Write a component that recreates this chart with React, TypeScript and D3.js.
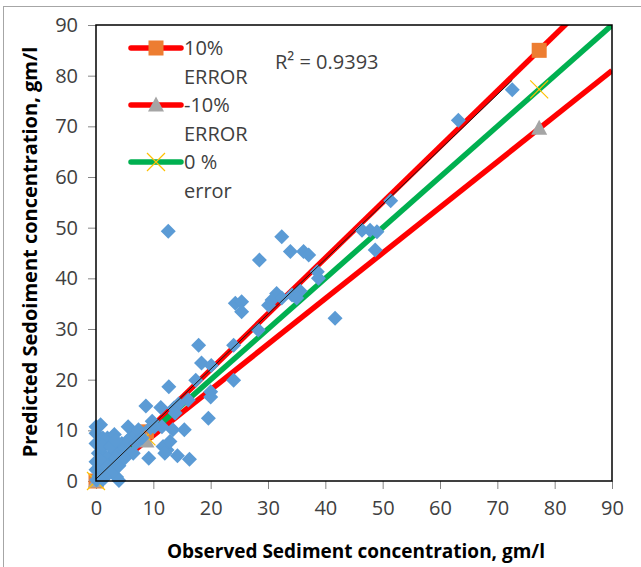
import * as d3 from 'd3';
import React, { useEffect, useRef } from 'react';

// observed vs predicted sediment concentration (gm/l)
const observed = [
  72.6, 63.2, 51.4, 46.4, 47.8, 49.0, 48.7,
  32.4, 28.5, 33.9, 36.2, 37.1, 38.6, 38.8,
  24.3, 25.4, 25.4, 31.5, 30.7, 30.1, 32.4, 34.2, 35.6, 35.0, 41.7, 28.3, 24.0, 24.0, 12.6,
  17.9, 18.4, 20.1, 17.4, 12.7, 20.0, 20.0, 16.1,
  8.7, 11.3, 13.6, 14.4, 13.8, 19.6,
  15.4, 13.4, 11.5, 9.2, 14.2, 16.3, 12.4, 11.7, 12.9, 10.2, 9.8, 12.0,
  0, 0.8, 0, 0, 0.4, 0, 0, 0.1, 2.1, 3.0, 3.9, 4.5, 6.2, 5.6, 7.4,
  4.0, 3.6, 1.6, 2.4, 1.0, 1.5, 2.8, 5.0, 5.5, 7.0, 6.5, 8.0, 9.5, 0.5, 1.2,
  1.0, 2.0, 3.0, 4.0, 1.5, 3.5, 5.0, 1.0, 1.2,
  2.0, 3.2, 1.2, 2.5, 0.6, 3.4
];
const predicted = [
  77.2, 71.2, 55.3, 49.5, 49.5, 49.2, 45.6,
  48.2, 43.6, 45.3, 45.3, 44.6, 41.3, 40.0,
  35.1, 35.4, 33.4, 37.0, 35.7, 34.7, 36.1, 36.7, 37.5, 36.1, 32.1, 29.8, 26.8, 19.9, 49.3,
  26.8, 23.3, 22.8, 19.9, 18.6, 17.6, 16.6, 16.0,
  14.8, 14.5, 14.4, 15.2, 13.4, 12.4,
  10.1, 10.1, 10.7, 4.5, 5.0, 4.3, 6.1, 6.8, 7.8, 10.7, 11.8, 5.5,
  10.7, 11.1, 9.4, 7.4, 5.5, 3.8, 2.2, 0.2, 4.1, 5.5, 6.1, 7.4, 8.7, 10.7, 10.1,
  0.1, 0.8, 0.8, 2.2, 2.8, 5.0, 3.2, 6.5, 8.0, 7.5, 5.5, 8.5, 10.5, 1.0, 0.3,
  1.0, 1.5, 2.0, 3.0, 3.5, 4.5, 4.5, 6.5, 8.5,
  8.5, 9.2, 7.0, 6.8, 4.2, 8.0
];

// error band series: marker positions
const errorX = [0, 8.8, 77.3];
const plus10Y = [0, 9.7, 85.0];
const minus10Y = [0, 7.9, 69.6];
const zeroY = [0, 8.8, 77.3];
const errorFactors = [1.1, 0.9, 1.0];

// linear trendline
const trendSlope = 1.084;
const trendIntercept = 0.4;
const r2Label = 'R² = 0.9393';

const ticks = [0, 10, 20, 30, 40, 50, 60, 70, 80, 90];
const legendLabels = [['10%', 'ERROR'], ['-10%', 'ERROR'], ['0 %', 'error']];

export default function App() {
  const svgRef = useRef<SVGSVGElement>(null);
  const width = 641;
  const height = 567;

  useEffect(() => {
    const svg = d3.select(svgRef.current);
    svg.selectAll('*').remove();
    const font = "'Open Sans', sans-serif";
    const textColor = '#404040';

    const x = d3.scaleLinear().domain([0, 90]).range([96, 612]);
    const y = d3.scaleLinear().domain([0, 90]).range([481, 25]);

    // outer chart border
    svg.append('rect')
      .attr('x', 3.5).attr('y', 6.5)
      .attr('width', 700).attr('height', 700)
      .attr('fill', 'white')
      .attr('stroke', '#a6a6a6');

    svg.append('defs').append('clipPath').attr('id', 'plotClip')
      .append('rect')
      .attr('x', 96).attr('y', 25)
      .attr('width', 516).attr('height', 456);

    // axes
    const xAxis = svg.append('g')
      .attr('transform', 'translate(0,481)')
      .call(d3.axisBottom(x).tickValues(ticks).tickSize(8).tickPadding(12));
    const yAxis = svg.append('g')
      .attr('transform', 'translate(96,0)')
      .call(d3.axisLeft(y).tickValues(ticks).tickSize(8).tickPadding(10));
    [xAxis, yAxis].forEach(g => {
      g.select('.domain').remove();
      g.selectAll('line').attr('stroke', '#868686');
      g.selectAll('text')
        .attr('font-family', font)
        .attr('font-size', 20)
        .attr('fill', textColor);
    });
    xAxis.selectAll('text').attr('dy', '0.72em');

    // error lines
    const lineColors = ['#ff0000', '#ff0000', '#00b050'];
    const plot = svg.append('g').attr('clip-path', 'url(#plotClip)');
    errorFactors.forEach((f, i) => {
      plot.append('line')
        .attr('x1', x(0)).attr('y1', y(0))
        .attr('x2', x(90)).attr('y2', y(90 * f))
        .attr('stroke', lineColors[i])
        .attr('stroke-width', 5.5);
    });

    // markers
    const squareMarker = (g, cx, cy) => g.append('rect')
      .attr('x', cx - 7.5).attr('y', cy - 7.5)
      .attr('width', 15).attr('height', 15)
      .attr('fill', '#ed7d31');
    const triMarker = (g, cx, cy) => g.append('path')
      .attr('d', `M${cx},${cy - 8.5}L${cx + 8},${cy + 6.5}L${cx - 8},${cy + 6.5}Z`)
      .attr('fill', '#a5a5a5');
    const crossMarker = (g, cx, cy) => g.append('path')
      .attr('d', `M${cx - 9},${cy - 9}L${cx + 9},${cy + 9}M${cx - 9},${cy + 9}L${cx + 9},${cy - 9}`)
      .attr('stroke', '#ffc000')
      .attr('stroke-width', 1.2)
      .attr('fill', 'none');

    errorX.forEach((v, i) => {
      squareMarker(svg, x(v), y(plus10Y[i]));
      triMarker(svg, x(v), y(minus10Y[i]));
      crossMarker(svg, x(v), y(zeroY[i]));
    });

    // scatter
    const pts = observed.map((o, i) => ({ o, p: predicted[i] }));
    const r = 7.5;
    svg.append('g')
      .selectAll('path')
      .data(pts)
      .enter()
      .append('path')
      .attr('d', d => `M${x(d.o)},${y(d.p) - r}L${x(d.o) + r},${y(d.p)}L${x(d.o)},${y(d.p) + r}L${x(d.o) - r},${y(d.p)}Z`)
      .attr('fill', '#5b9bd5');

    // trendline
    const xMax = d3.max(observed);
    const xMin = d3.min(observed);
    svg.append('line')
      .attr('x1', x(xMin)).attr('y1', y(trendSlope * xMin + trendIntercept))
      .attr('x2', x(xMax)).attr('y2', y(trendSlope * xMax + trendIntercept))
      .attr('stroke', '#1a1a1a')
      .attr('stroke-width', 1);

    // plot frame
    svg.append('rect')
      .attr('x', 96).attr('y', 25)
      .attr('width', 516).attr('height', 456)
      .attr('fill', 'none')
      .attr('stroke', 'black')
      .attr('stroke-width', 1.5);

    // legend
    const markers = [squareMarker, triMarker, crossMarker];
    legendLabels.forEach((lab, i) => {
      const ly = 48 + i * 57;
      svg.append('line')
        .attr('x1', 131).attr('x2', 181)
        .attr('y1', ly).attr('y2', ly)
        .attr('stroke', lineColors[i])
        .attr('stroke-width', 5.5)
        .attr('stroke-linecap', 'round');
      markers[i](svg, 156, ly);
      lab.forEach((t, j) => {
        svg.append('text')
          .attr('x', 184)
          .attr('y', ly + j * 29)
          .attr('dy', '0.35em')
          .attr('font-family', font)
          .attr('font-size', 20)
          .attr('fill', textColor)
          .text(t);
      });
    });

    // R squared
    svg.append('text')
      .attr('x', 275).attr('y', 62)
      .attr('dy', '0.35em')
      .attr('font-family', font)
      .attr('font-size', 20)
      .attr('fill', textColor)
      .text(r2Label);

    // axis titles
    svg.append('text')
      .attr('x', 356).attr('y', 551)
      .attr('text-anchor', 'middle')
      .attr('dy', '0.35em')
      .attr('font-family', font)
      .attr('font-weight', 'bold')
      .attr('font-size', 19)
      .attr('fill', 'black')
      .text('Observed Sediment concentration, gm/l');

    svg.append('text')
      .attr('transform', 'translate(30,252) rotate(-90)')
      .attr('text-anchor', 'middle')
      .attr('dy', '0.35em')
      .attr('font-family', font)
      .attr('font-weight', 'bold')
      .attr('font-size', 20)
      .attr('fill', 'black')
      .text('Predicted Sedoiment concentration, gm/l');
  }, []);

  return (
    <svg ref={svgRef} width={width} height={height}
      style={{ position: 'absolute', left: 0, top: 0, background: 'white' }} />
  );
}
